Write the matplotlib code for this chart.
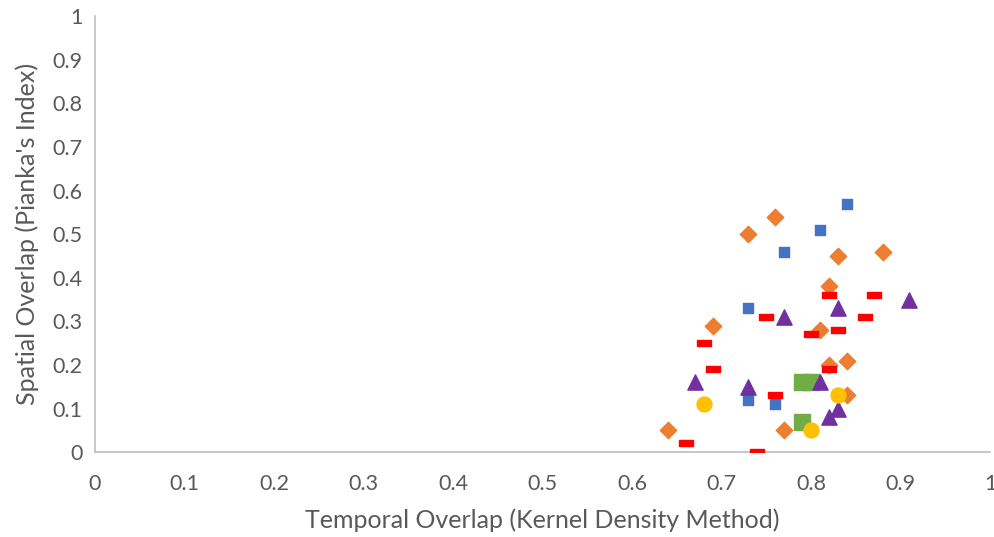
import matplotlib
matplotlib.use("Agg")
import matplotlib.pyplot as plt

plt.rcParams['font.family'] = ['Lato', 'DejaVu Sans']

# data (x = temporal overlap, y = spatial overlap)
blue_x = [0.84, 0.81, 0.77, 0.73, 0.73, 0.76]
blue_y = [0.57, 0.51, 0.46, 0.33, 0.12, 0.11]

orange_x = [0.76, 0.73, 0.83, 0.88, 0.82, 0.69, 0.81, 0.82, 0.84, 0.84, 0.64, 0.77]
orange_y = [0.54, 0.50, 0.45, 0.46, 0.38, 0.29, 0.28, 0.20, 0.21, 0.13, 0.05, 0.05]

red_x = [0.82, 0.87, 0.75, 0.86, 0.83, 0.80, 0.68, 0.69, 0.82, 0.76, 0.66, 0.74]
red_y = [0.36, 0.36, 0.31, 0.31, 0.28, 0.27, 0.25, 0.19, 0.19, 0.13, 0.02, 0.00]

green_x = [0.79, 0.80, 0.79]
green_y = [0.16, 0.16, 0.07]

purple_x = [0.91, 0.83, 0.77, 0.67, 0.73, 0.81, 0.83, 0.82]
purple_y = [0.35, 0.33, 0.31, 0.16, 0.15, 0.16, 0.10, 0.08]

yellow_x = [0.68, 0.83, 0.80]
yellow_y = [0.11, 0.13, 0.05]

ticks = [0, 0.1, 0.2, 0.3, 0.4, 0.5, 0.6, 0.7, 0.8, 0.9, 1]
tick_labels = ['0', '0.1', '0.2', '0.3', '0.4', '0.5', '0.6', '0.7', '0.8', '0.9', '1']

dash = [(-1, -0.4), (1, -0.4), (1, 0.4), (-1, 0.4), (-1, -0.4)]

fig = plt.figure(figsize=(9.95, 5.37), dpi=100)
ax = fig.add_axes([0.0955, 0.158, 0.8995, 0.812])

ax.scatter(blue_x, blue_y, marker='s', s=60, color='#4472C4', zorder=3)
ax.scatter(orange_x, orange_y, marker='D', s=70, color='#ED7D31', zorder=3)
ax.scatter(red_x, red_y, marker=dash, s=110, color='#FF0000', zorder=4)
ax.scatter(green_x, green_y, marker='s', s=120, color='#70AD47', zorder=5)
ax.scatter(purple_x, purple_y, marker='^', s=120, color='#7030A0', zorder=6)
ax.scatter(yellow_x, yellow_y, marker='o', s=115, color='#FFC000', zorder=7)

ax.set_xlim(0, 1)
ax.set_ylim(0, 1)
ax.set_xticks(ticks)
ax.set_xticklabels(tick_labels)
ax.set_yticks(ticks)
ax.set_yticklabels(tick_labels)
ax.tick_params(length=0, labelsize=15.5, labelcolor='#595959')
ax.tick_params(axis='x', pad=16)
ax.tick_params(axis='y', pad=9)

for side in ['top', 'right']:
    ax.spines[side].set_visible(False)
for side in ['left', 'bottom']:
    ax.spines[side].set_color('#BFBFBF')
    ax.spines[side].set_linewidth(1.2)

ax.set_xlabel('Temporal Overlap (Kernel Density Method)', fontsize=18, color='#595959', labelpad=10)
ax.set_ylabel("Spatial Overlap (Pianka's Index)", fontsize=18, color='#595959', labelpad=10)

fig.savefig('out.png', dpi=100)
